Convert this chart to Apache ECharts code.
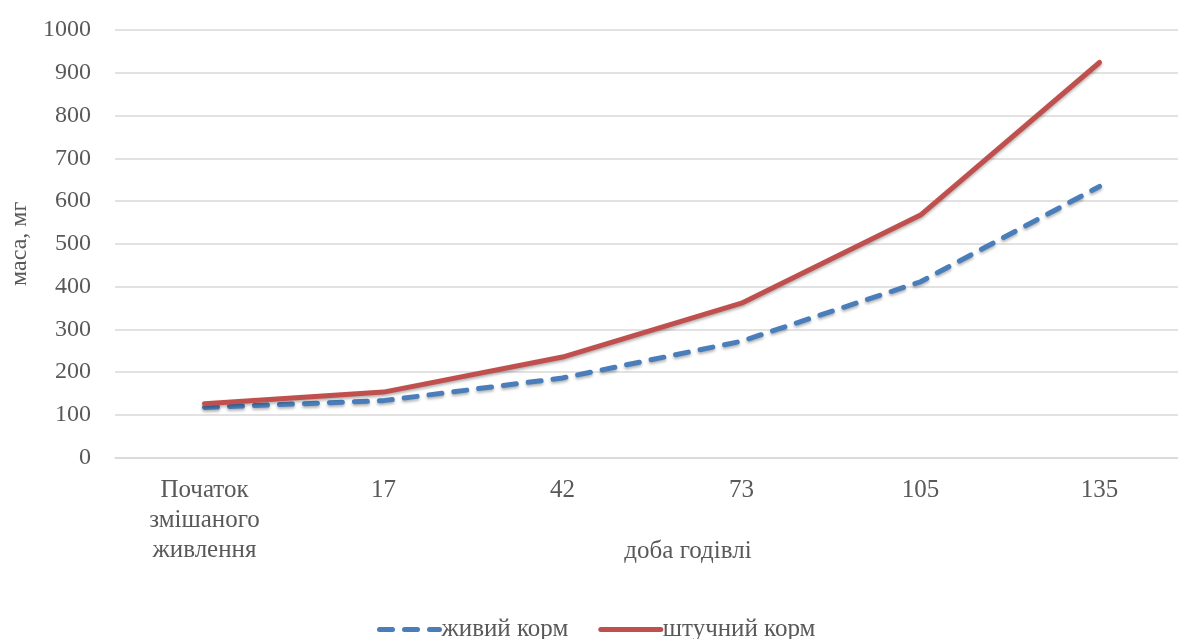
<!DOCTYPE html>
<html>
<head>
<meta charset="utf-8">
<script src="https://cdn.jsdelivr.net/npm/echarts@6/dist/echarts.min.js"></script>
<style>
  html, body { margin: 0; padding: 0; background: #fff; overflow: hidden; }
  #chart { width: 1190px; height: 639px; }
</style>
</head>
<body>
<div id="chart"></div>
<script>
// Feeding day categories
const categories = ['Початок\nзмішаного\nживлення', '17', '42', '73', '105', '135'];
// Mass of fish, mg
const liveFeed = [117, 133, 186, 272, 411, 634];
const artificialFeed = [126, 153, 235, 361, 567, 924];
const seriesNames = ['живий корм', 'штучний корм'];
const yTicks = { min: 0, max: 1000, interval: 100 };

const textColor = '#595959';
const gridColor = '#d9d9d9';
const font = 'Liberation Serif';
const blue = '#4a7ebb';
const red = '#c0504d';
const dash = [13, 12];

const chart = echarts.init(document.getElementById('chart'));
chart.setOption({
  animation: false,
  backgroundColor: '#fff',
  textStyle: { fontFamily: font, color: textColor },
  grid: { left: 115, top: 30, width: 1074, height: 427.5, containLabel: false },
  legend: {
    top: 612,
    left: 372,
    itemWidth: 60,
    itemHeight: 12,
    itemGap: 30,
    itemStyle: { opacity: 0 },
    textStyle: { fontFamily: font, fontSize: 25, color: textColor, padding: [0, 0, 0, -3] },
    data: [
      { name: seriesNames[0], lineStyle: { width: 5, type: dash, cap: 'round', color: blue } },
      { name: seriesNames[1], lineStyle: { width: 5, type: 'solid', cap: 'round', color: red } }
    ]
  },
  xAxis: {
    type: 'category',
    data: categories,
    boundaryGap: true,
    axisLine: { show: true, lineStyle: { color: gridColor, width: 1.5 } },
    axisTick: { show: false },
    axisLabel: { margin: 18, fontSize: 25, lineHeight: 30, color: textColor, fontFamily: font, interval: 0 },
    name: 'доба годівлі',
    nameLocation: 'middle',
    nameGap: 81,
    nameMoveOverlap: false,
    nameTextStyle: { fontSize: 25, color: textColor, fontFamily: font, padding: [0, 0, 0, 72] }
  },
  yAxis: {
    type: 'value',
    min: yTicks.min,
    max: yTicks.max,
    interval: yTicks.interval,
    axisLine: { show: false },
    axisTick: { show: false },
    splitLine: { lineStyle: { color: gridColor, width: 1.5 } },
    axisLabel: {
      margin: 24, fontSize: 24, color: textColor, fontFamily: font,
      formatter: (v) => String(v)
    },
    name: 'маса, мг',
    nameLocation: 'middle',
    nameGap: 83,
    nameMoveOverlap: false,
    nameRotate: 90,
    nameTextStyle: { fontSize: 24, color: textColor, fontFamily: font }
  },
  series: [
    {
      name: seriesNames[0],
      type: 'line',
      data: liveFeed,
      symbol: 'none',
      z: 2,
      itemStyle: { color: blue },
      lineStyle: {
        color: blue, width: 5, type: dash, cap: 'round',
        shadowColor: 'rgba(0,0,0,0.3)', shadowBlur: 3, shadowOffsetY: 2
      }
    },
    {
      name: seriesNames[1],
      type: 'line',
      data: artificialFeed,
      symbol: 'none',
      z: 3,
      itemStyle: { color: red },
      lineStyle: {
        color: red, width: 5, cap: 'round',
        shadowColor: 'rgba(0,0,0,0.3)', shadowBlur: 3, shadowOffsetY: 2
      }
    }
  ]
});
</script>
</body>
</html>
